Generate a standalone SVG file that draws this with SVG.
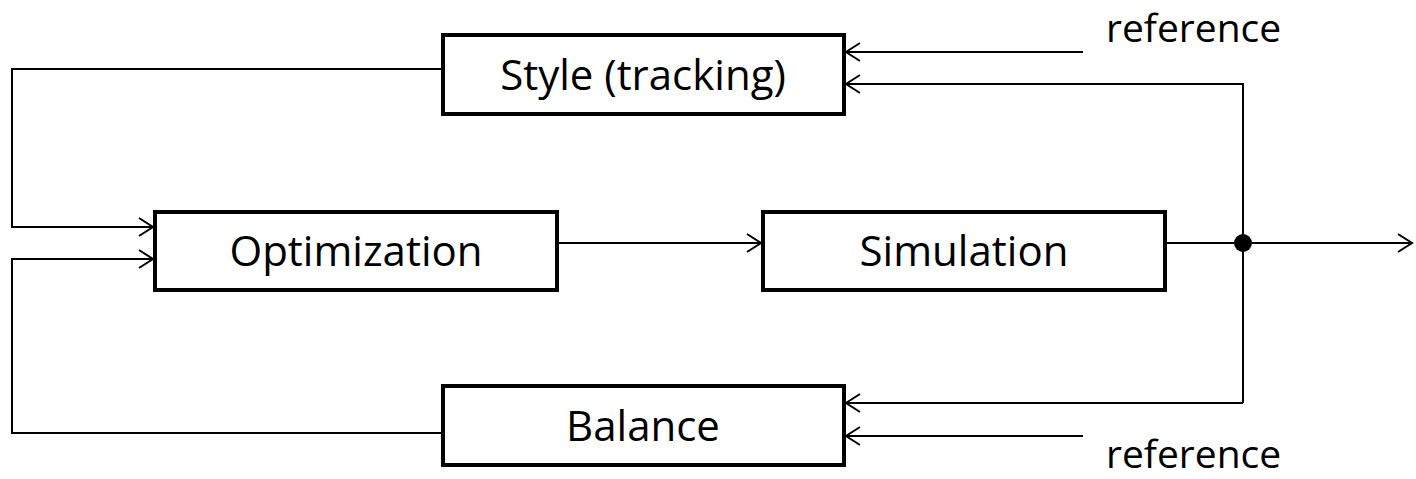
<svg xmlns="http://www.w3.org/2000/svg" width="1416" height="479" viewBox="0 0 1416 479">
<style>
.box{fill:#fff;stroke:#000;stroke-width:4}
.ln{fill:none;stroke:#000;stroke-width:2}
text{font-family:"Open Sans","Liberation Sans",sans-serif;font-size:42px;fill:#000}
.c{text-anchor:middle}
.ref{font-size:39px}
</style>
<defs>
<marker id="ah" markerWidth="20" markerHeight="20" refX="16" refY="10" orient="auto" markerUnits="userSpaceOnUse">
<path d="M2,1 L16,10 L2,19" fill="none" stroke="#000" stroke-width="2"/>
</marker>
</defs>
<rect width="1416" height="479" fill="#fff"/>
<g id="connectors">
<path class="ln" d="M443,69 H12 V227 H153" marker-end="url(#ah)"/>
<path class="ln" d="M443,433 H12 V259 H153" marker-end="url(#ah)"/>
<path class="ln" d="M557,243 H761" marker-end="url(#ah)"/>
<path class="ln" d="M1165,243 H1412" marker-end="url(#ah)"/>
<path class="ln" d="M1083,52 H846" marker-end="url(#ah)"/>
<path class="ln" d="M1243,403 V84 H846" marker-end="url(#ah)"/>
<path class="ln" d="M1243,403 H846" marker-end="url(#ah)"/>
<path class="ln" d="M1083,436 H846" marker-end="url(#ah)"/>
<circle cx="1243" cy="243" r="9" fill="#000"/>
</g>
<g id="style"><rect class="box" x="443" y="35" width="401" height="79"/><text class="c" x="643" y="90">Style (tracking)</text></g>
<g id="optimization"><rect class="box" x="155" y="212" width="402" height="78"/><text class="c" x="356" y="266">Optimization</text></g>
<g id="simulation"><rect class="box" x="763" y="212" width="402" height="78"/><text class="c" x="964" y="266">Simulation</text></g>
<g id="balance"><rect class="box" x="443" y="386" width="401" height="79"/><text class="c" x="643" y="441">Balance</text></g>
<g id="ref-top"><text class="ref" x="1106" y="42">reference</text></g>
<g id="ref-bottom"><text class="ref" x="1106" y="468">reference</text></g>
</svg>
